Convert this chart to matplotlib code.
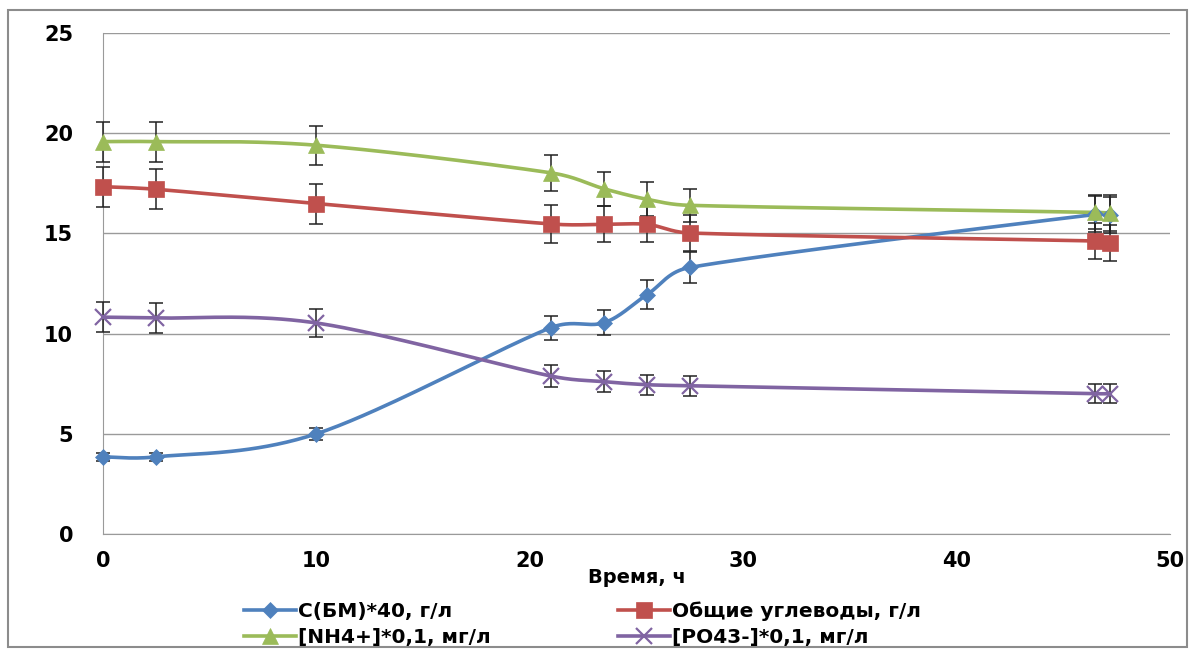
import matplotlib
matplotlib.use('Agg')
import matplotlib.pyplot as plt
import numpy as np
from matplotlib.patches import Rectangle

plt.rcParams['font.family'] = ['DejaVu Sans']

# data
time_h = [0, 2.5, 10, 21, 23.5, 25.5, 27.5, 46.5, 47.2]
biomass = [3.85, 3.85, 5.0, 10.3, 10.55, 11.95, 13.3, 15.95, 15.9]
biomass_err = [0.2, 0.2, 0.3, 0.6, 0.63, 0.7, 0.78, 0.9, 0.9]
carbs = [17.33, 17.2, 16.49, 15.47, 15.45, 15.45, 15.02, 14.62, 14.5]
carbs_err = [1.0, 1.0, 1.0, 0.93, 0.9, 0.9, 0.9, 0.9, 0.9]
ammonium = [19.58, 19.58, 19.4, 18.02, 17.22, 16.7, 16.4, 16.05, 16.02]
ammonium_err = [1.0, 1.0, 0.98, 0.9, 0.85, 0.85, 0.82, 0.85, 0.9]
phosphate = [10.82, 10.78, 10.53, 7.88, 7.6, 7.45, 7.4, 7.0, 7.0]
phosphate_err = [0.74, 0.73, 0.7, 0.56, 0.53, 0.5, 0.5, 0.48, 0.48]

labels = ['С(БМ)*40, г/л', 'Общие углеводы, г/л',
          '[NH4+]*0,1, мг/л', '[PO43-]*0,1, мг/л']
colors = ['#4F81BD', '#C0504D', '#9BBB59', '#8064A2']
markers = ['D', 's', '^', 'x']
msizes = [8, 11, 11, 11]


def smooth(x, y, sx=21.35, sy=20.04, n=40):
    """Excel-like smoothed line (bezier) through the points, with limited overshoot."""
    p = np.column_stack([np.asarray(x) * sx, np.asarray(y) * sy])
    pts = []
    for i in range(len(p) - 1):
        p0 = p[i - 1] if i > 0 else p[i]
        p1, p2 = p[i], p[i + 1]
        p3 = p[i + 2] if i + 2 < len(p) else p[i + 1]
        chord = np.linalg.norm(p2 - p1)
        d1 = (p2 - p0) / 6
        d2 = (p3 - p1) / 6
        for d in (d1, d2):
            L = np.linalg.norm(d)
            if L > 0.45 * chord:
                d *= 0.45 * chord / L
        c1 = p1 + d1
        c2 = p2 - d2
        t = np.linspace(0, 1, n)[:, None]
        seg = ((1 - t) ** 3) * p1 + 3 * ((1 - t) ** 2) * t * c1 + 3 * (1 - t) * t ** 2 * c2 + t ** 3 * p2
        pts.append(seg)
    pts = np.vstack(pts)
    return pts[:, 0] / sx, pts[:, 1] / sy


fig = plt.figure(figsize=(11.95, 6.49), dpi=100)
ax = fig.add_axes([103 / 1195, 1 - 534 / 649, (1170 - 103) / 1195, (534 - 33) / 649])

series = [(biomass, biomass_err), (carbs, carbs_err), (ammonium, ammonium_err), (phosphate, phosphate_err)]
handles = []
for (vals, errs), lab, col, mk, ms in zip(series, labels, colors, markers, msizes):
    sx, sy = smooth(time_h, vals)
    ax.plot(sx, sy, color=col, lw=2.6, zorder=3, clip_on=False)
    ax.errorbar(time_h, vals, yerr=errs, fmt='none', ecolor='#222222', elinewidth=1.1,
                capsize=5, capthick=1.1, zorder=4, clip_on=False)
    mew = 1.6 if mk == 'x' else 0.5
    ax.plot(time_h, vals, linestyle='none', marker=mk, color=col, markersize=ms,
            markeredgewidth=mew, markeredgecolor=col, zorder=5, clip_on=False)
    h, = ax.plot([], [], color=col, lw=2.6, marker=mk, markersize=ms, markeredgewidth=mew)
    handles.append(h)

ax.set_xlim(0, 50)
ax.set_ylim(0, 25)
ax.set_xticks([0, 10, 20, 30, 40, 50])
ax.set_yticks([0, 5, 10, 15, 20, 25])
ax.grid(axis='y', color='#9a9a9a', lw=1)
ax.set_axisbelow(True)
for s in ['top', 'right']:
    ax.spines[s].set_visible(False)
for s in ['left', 'bottom']:
    ax.spines[s].set_color('#9a9a9a')
ax.tick_params(length=0, labelsize=15)
ax.tick_params(axis='y', pad=21.5)
ax.tick_params(axis='x', pad=12)
for t in ax.get_xticklabels() + ax.get_yticklabels():
    t.set_fontweight('bold')
ax.set_xlabel('Время, ч', fontsize=14, fontweight='bold', labelpad=-2)

# legend filled row-wise like the reference
order = [0, 2, 1, 3]
fig.legend([handles[i] for i in order], [labels[i] for i in order], loc='lower left',
           bbox_to_anchor=(226 / 1195, -0.025), ncol=2, frameon=False,
           prop={'size': 14.5, 'weight': 'bold'}, handlelength=2.6, handletextpad=0.1,
           columnspacing=6.3, labelspacing=0.35)

fig.patches.append(Rectangle((8 / 1195, 2 / 649), 1179 / 1195, 637 / 649, transform=fig.transFigure,
                             fill=False, edgecolor='#8c8c8c', lw=1.5))

fig.savefig('out.png', dpi=100)
